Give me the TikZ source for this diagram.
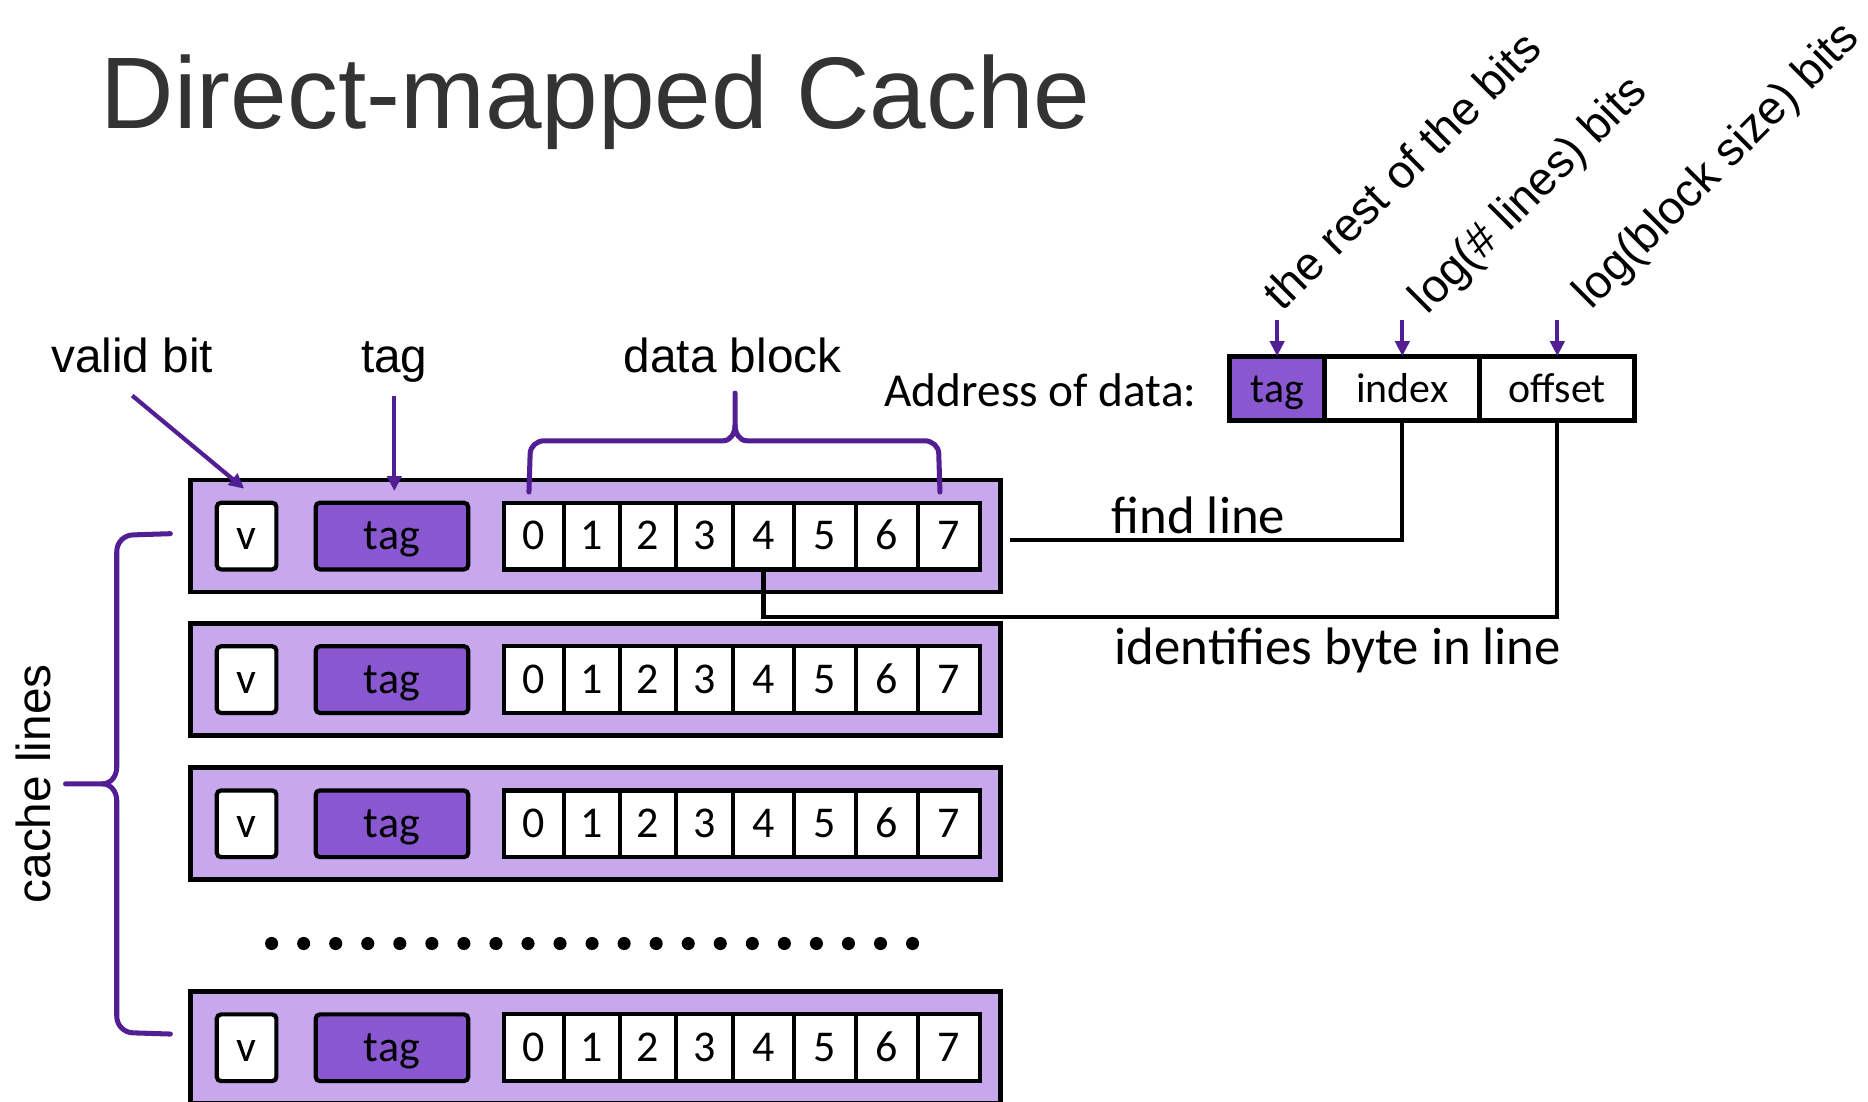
\documentclass[tikz,border=0pt]{standalone}
\usepackage{fontspec}
\setmainfont{Liberation Sans}
\newfontfamily\calibri{Carlito}
\usetikzlibrary{arrows.meta}
\definecolor{linefill}{HTML}{C8A8EC}
\definecolor{tagfill}{HTML}{8957D0}
\definecolor{bracecol}{HTML}{521E93}
\definecolor{titlegray}{HTML}{333333}
\begin{document}
\begin{tikzpicture}[
  linebox/.style={draw,line width=1.1pt,fill=linefill,minimum width=6.8cm,minimum height=0.94cm,inner sep=0pt},
  vbox/.style={draw,line width=1pt,fill=white,rounded corners=1pt,minimum width=0.5cm,minimum height=0.56cm,inner sep=0pt,text height=6.6pt,text depth=0pt,font=\calibri\fontsize{10.5}{12}\selectfont},
  tagbox/.style={vbox,fill=tagfill,minimum width=1.28cm},
  cell/.style={vbox,rounded corners=0pt},
  afield/.style={draw,line width=0.6pt,minimum height=0.52cm,inner sep=0pt,text height=7pt,text depth=0pt,font=\calibri\fontsize{10}{12}\selectfont},
  lbl/.style={font=\fontsize{11.4}{13}\selectfont,inner sep=0pt,anchor=base},
  bits/.style={font=\fontsize{11.1}{13}\selectfont,inner sep=0pt,rotate=45,anchor=base west},
  note/.style={font=\calibri\fontsize{12.6}{14}\selectfont,inner sep=0pt,anchor=base},
  pointer/.style={bracecol,line width=1pt,-{Triangle[length=3.6pt,width=3.4pt]}},
  brace/.style={bracecol,line width=1.2pt,line cap=round},
  wire/.style={line width=1pt}
]
\useasboundingbox (0,0) rectangle (15.68,9.25);
\node[anchor=base west,inner sep=0pt,text=titlegray,font=\fontsize{24.3}{28}\selectfont] (title) at (0.84,8.17) {Direct-mapped Cache};

\foreach \r/\y in {1/4.75,2/3.545,3/2.335,4/0.455}{
  \node[linebox] (row\r) at (5.0,\y) {};
  \node[vbox] (v\r) at (2.07,\y) {v};
  \node[tagbox] (t\r) at (3.29,\y) {tag};
  \foreach \c/\x/\w in {0/4.482/0.504,1/4.969/0.47,2/5.438/0.468,3/5.911/0.478,4/6.408/0.515,5/6.926/0.521,6/7.445/0.517,7/7.965/0.523}
    \node[cell,minimum width=\w cm] (c\r-\c) at (\x,\y) {\c};
}
\foreach \i in {0,...,20}
  \fill ({2.28+0.269*\i},1.33) circle (0.055);

\node[lbl] (validlbl) at (1.11,6.12) {valid bit};
\node[lbl] (taglbl) at (3.31,6.12) {tag};
\node[lbl] (datalbl) at (6.15,6.12) {data block};
\draw[pointer] ([yshift=-0.18cm]validlbl.south) -- ([shift={(-0.02,0.1)}]v1.north);
\draw[pointer] ([yshift=-0.1cm]taglbl.south) -- ([yshift=0.08cm]taglbl.south |- t1.north);
\draw[brace] (4.44,5.12) -- (4.45,5.44) to[out=90,in=180] (4.57,5.55) -- (6.07,5.55) to[out=0,in=-90] (6.17,5.68) -- (6.17,5.95);
\draw[brace] (7.89,5.12) -- (7.88,5.44) to[out=90,in=0] (7.76,5.55) -- (6.27,5.55) to[out=180,in=-90] (6.17,5.68);

\node[lbl,rotate=90,anchor=center] (cachelbl) at (0.28,2.67) {cache lines};
\draw[brace] (1.43,4.77) -- (1.12,4.76) to[out=180,in=90] (0.98,4.62) -- (0.98,2.81) to[out=-90,in=0] (0.86,2.67) -- (0.55,2.67);
\draw[brace] (1.43,0.57) -- (1.12,0.58) to[out=180,in=-90] (0.98,0.72) -- (0.98,2.53) to[out=90,in=0] (0.86,2.67);

\node[afield,fill=tagfill,minimum width=0.78cm] (atag) at (10.72,5.99) {tag};
\node[afield,minimum width=1.28cm,anchor=west] (aidx) at (atag.east) {index};
\node[afield,minimum width=1.28cm,anchor=west] (aoff) at (aidx.east) {offset};
\draw[line width=1.2pt] (atag.north west) rectangle (aoff.south east);
\node[note,anchor=base east,font=\calibri\fontsize{11.3}{13}\selectfont] (addrlbl) at (10.05,5.84) {Address of data:};

\node[bits] (restbits) at (10.76,6.62) {the rest of the bits};
\node[bits] (linebits) at (11.98,6.60) {log(\# lines) bits};
\node[bits] (blockbits) at (13.35,6.64) {log(block size) bits};
\draw[pointer] ([yshift=0.3cm]atag.north) -- (atag.north);
\draw[pointer] ([yshift=0.3cm]aidx.north) -- (aidx.north);
\draw[pointer] ([yshift=0.3cm]aoff.north) -- (aoff.north);

\draw[wire] (aidx.south) |- ([shift={(0.06,-0.03)}]row1.east);
\draw[wire] (aoff.south) |- ([yshift=-0.38cm]c1-4.south) -- (c1-4.south);
\node[note] (findlbl) at (10.06,4.77) {find line};
\node[note] (bytelbl) at (11.23,3.67) {identifies byte in line};
\end{tikzpicture}
\end{document}
